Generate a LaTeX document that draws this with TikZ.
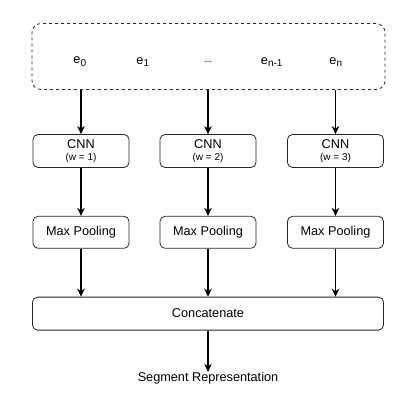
\documentclass[tikz,border=0pt]{standalone}
\usepackage{fontspec}
\setmainfont{Liberation Sans}
\usetikzlibrary{arrows.meta, positioning}

\begin{document}
\begin{tikzpicture}[
    x=1pt, y=-1pt,
    node distance=48pt,
    box/.style={rectangle, draw=black!85, fill=white, line width=0.8pt,
                minimum width=96pt, minimum height=33pt, inner sep=0pt,
                align=center, rounded corners=5pt,
                font=\fontsize{12.7}{13}\selectfont},
    emb/.style={inner sep=0pt, font=\fontsize{12.7}{14}\selectfont},
    arrow/.style={-{Stealth[length=8pt, width=7.5pt, inset=2.5pt]},
                  line width=1.4pt, black}
]
\useasboundingbox (0,0) rectangle (415,400);

\node[box, dashed, minimum width=353pt, minimum height=66pt,
      rounded corners=9pt] (input) at (208.5,56.5) {};
\node[emb] (e0) at (80,62) {e\textsubscript{\fontsize{10}{11}\selectfont 0}};
\node[emb] (e1) at (143,62) {e\textsubscript{\fontsize{10}{11}\selectfont 1}};
\node[emb] (dots) at (208,62) {\fontsize{9}{10}\selectfont ...};
\node[emb] (en1) at (272,62) {e\textsubscript{\fontsize{10}{11}\selectfont n-1}};
\node[emb] (en) at (336,62) {e\textsubscript{\fontsize{10}{11}\selectfont n}};

\node[box] (cnn1) at (81,151) {CNN\\[-1pt]{\fontsize{10}{11}\selectfont (w = 1)}};
\node[box] (cnn2) at (208,151) {CNN\\[-1pt]{\fontsize{10}{11}\selectfont (w = 2)}};
\node[box] (cnn3) at (335.5,151) {CNN\\[-1pt]{\fontsize{10}{11}\selectfont (w = 3)}};

\node[box, minimum height=32pt, below=of cnn1] (pool1) {Max Pooling};
\node[box, minimum height=32pt, below=of cnn2] (pool2) {Max Pooling};
\node[box, minimum height=32pt, below=of cnn3] (pool3) {Max Pooling};

\node[box, minimum width=351pt, below=of pool2] (concat) {Concatenate};
\node[emb] (seg) at (208,378) {Segment Representation};

\draw[arrow] (input.south -| cnn1) -- (cnn1);
\draw[arrow] (input.south -| cnn2) -- (cnn2);
\draw[arrow] (input.south -| cnn3) -- (cnn3);

\draw[arrow] (cnn1) -- (pool1);
\draw[arrow] (cnn2) -- (pool2);
\draw[arrow] (cnn3) -- (pool3);

\draw[arrow] (pool1) -- (pool1 |- concat.north);
\draw[arrow] (pool2) -- (concat);
\draw[arrow] (pool3) -- (pool3 |- concat.north);

\draw[arrow] (concat) -- (seg);

\end{tikzpicture}
\end{document}
